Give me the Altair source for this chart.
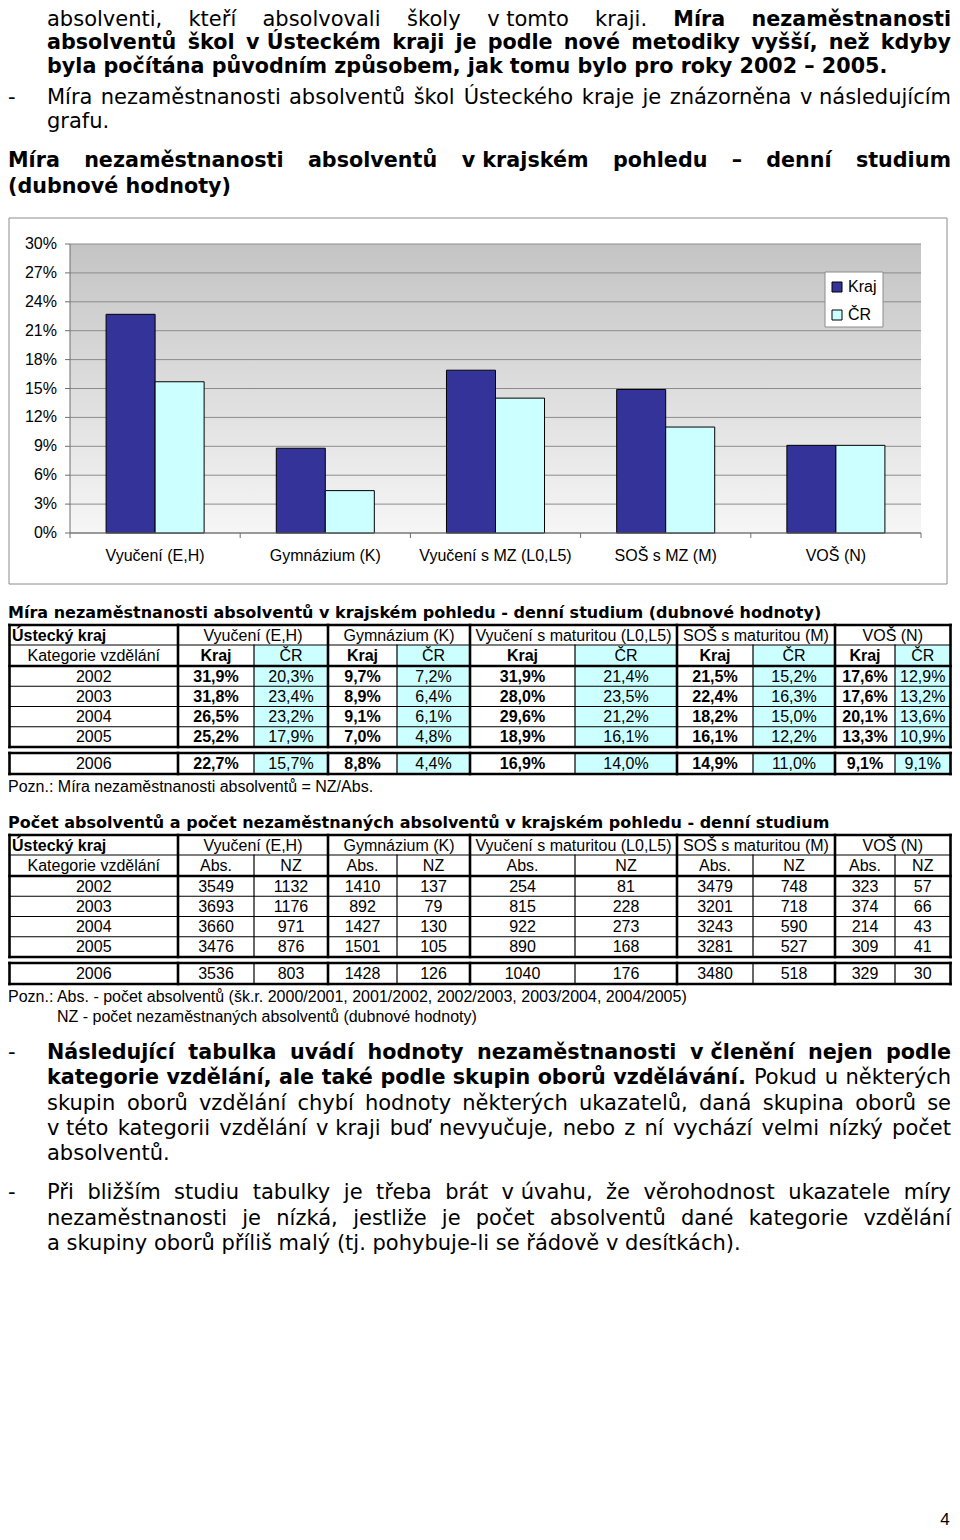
import unicodedata
import altair as alt
import pandas as pd

# ------------------------------------------------------------------ data
years = ["2002", "2003", "2004", "2005", "2006"]
groups_table = ["Vyučení (E,H)", "Gymnázium (K)", "Vyučení s maturitou (L0,L5)",
                "SOŠ s maturitou (M)", "VOŠ (N)"]
groups_chart = ["Vyučení (E,H)", "Gymnázium (K)", "Vyučení s MZ (L0,L5)",
                "SOŠ s MZ (M)", "VOŠ (N)"]
series = ["Kraj", "ČR"]
series_colors = ["#333399", "#CCFFFF"]

rate_kraj_vyuceni = [31.9, 31.8, 26.5, 25.2, 22.7]
rate_cr_vyuceni = [20.3, 23.4, 23.2, 17.9, 15.7]
rate_kraj_gymnazium = [9.7, 8.9, 9.1, 7.0, 8.8]
rate_cr_gymnazium = [7.2, 6.4, 6.1, 4.8, 4.4]
rate_kraj_vyuceni_mz = [31.9, 28.0, 29.6, 18.9, 16.9]
rate_cr_vyuceni_mz = [21.4, 23.5, 21.2, 16.1, 14.0]
rate_kraj_sos = [21.5, 22.4, 18.2, 16.1, 14.9]
rate_cr_sos = [15.2, 16.3, 15.0, 12.2, 11.0]
rate_kraj_vos = [17.6, 17.6, 20.1, 13.3, 9.1]
rate_cr_vos = [12.9, 13.2, 13.6, 10.9, 9.1]

abs_vyuceni = [3549, 3693, 3660, 3476, 3536]
nz_vyuceni = [1132, 1176, 971, 876, 803]
abs_gymnazium = [1410, 892, 1427, 1501, 1428]
nz_gymnazium = [137, 79, 130, 105, 126]
abs_vyuceni_mz = [254, 815, 922, 890, 1040]
nz_vyuceni_mz = [81, 228, 273, 168, 176]
abs_sos = [3479, 3201, 3243, 3281, 3480]
nz_sos = [748, 718, 590, 527, 518]
abs_vos = [323, 374, 214, 309, 329]
nz_vos = [57, 66, 43, 41, 30]

y_tick_values = [0, 3, 6, 9, 12, 15, 18, 21, 24, 27, 30]
y_tick_labels = ["0%", "3%", "6%", "9%", "12%", "15%", "18%", "21%", "24%", "27%", "30%"]

kraj_rates = [rate_kraj_vyuceni, rate_kraj_gymnazium, rate_kraj_vyuceni_mz, rate_kraj_sos, rate_kraj_vos]
cr_rates = [rate_cr_vyuceni, rate_cr_gymnazium, rate_cr_vyuceni_mz, rate_cr_sos, rate_cr_vos]
abs_counts = [abs_vyuceni, abs_gymnazium, abs_vyuceni_mz, abs_sos, abs_vos]
nz_counts = [nz_vyuceni, nz_gymnazium, nz_vyuceni_mz, nz_sos, nz_vos]

# ------------------------------------------------------------------ layout
OFF = 8
W, H = 944, 1524


def p(v):
    return v - OFF


XPAGE = alt.Scale(domain=[OFF, OFF + W], range=[0, W], nice=False, zero=False)
YPAGE = alt.Scale(domain=[OFF, OFF + H], range=[0, H], nice=False, zero=False)

PARA_FONT = "Verdana, DejaVu Sans"
SANS = "Arial, Liberation Sans"
SIZE_N = 21.0
SIZE_B = 20.7
X_LEFT, X_RIGHT = 47, 951

EM_N = {" ": .318, ",": .318, ".": .318, ":": .337, "-": .361, "–": .5, "(": .39, ")": .39,
        "/": .337, "a": .613, "b": .635, "c": .55, "d": .635, "e": .615, "f": .352, "g": .635,
        "h": .634, "i": .278, "j": .278, "k": .579, "l": .278, "m": .974, "n": .634, "o": .612,
        "p": .635, "q": .635, "r": .411, "s": .521, "t": .392, "u": .634, "v": .592, "w": .818,
        "x": .592, "y": .592, "z": .525, "M": .863, "N": .748, "P": .603, "U": .732, "K": .656,
        "S": .635}
EM_B = {" ": .348, ",": .38, ".": .38, "-": .415, "–": .5, "(": .457, ")": .457,
        "a": .675, "b": .716, "c": .593, "d": .716, "e": .678, "f": .435, "g": .716, "h": .712,
        "i": .343, "j": .343, "k": .665, "l": .343, "m": 1.042, "n": .712, "o": .687, "p": .716,
        "q": .716, "r": .493, "s": .595, "t": .478, "u": .712, "v": .652, "w": .924, "x": .645,
        "y": .652, "z": .582, "M": .995, "N": .837, "U": .812, "K": .775, "P": .733}


def est(word, bold):
    tbl = EM_B if bold else EM_N
    size = SIZE_B if bold else SIZE_N
    tot = 0.0
    for ch in word:
        base = unicodedata.normalize("NFD", ch)[0]
        if base in tbl:
            tot += tbl[base]
        elif base.isdigit():
            tot += .696 if bold else .636
        elif base.isupper():
            tot += .78 if bold else .70
        else:
            tot += .68 if bold else .60
    return tot * size


texts = []


def add_text(x, y, s, font, size, weight="normal", align="left"):
    texts.append(dict(x=x, y=y, text=s, font=font, size=float(size), weight=weight, align=align))


def tokens(s, bold):
    parts = s.split(" ")
    out, i = [], 0
    while i < len(parts):
        w = parts[i]
        if w == "v" and i + 1 < len(parts):
            w = w + " " + parts[i + 1]
            i += 1
        out.append((w, bold))
        i += 1
    return out


def justify(toks, x0, x1, y):
    widths = [est(w, b) for w, b in toks]
    n = len(toks)
    gap = (x1 - x0 - sum(widths)) / (n - 1)
    x = x0
    for i, ((w, b), wd) in enumerate(zip(toks, widths)):
        wt = "bold" if b else "normal"
        size = SIZE_B if b else SIZE_N
        if i == 0:
            add_text(x0, y, w, PARA_FONT, size, wt, "left")
        elif i == n - 1:
            add_text(x1, y, w, PARA_FONT, size, wt, "right")
        else:
            add_text(x + wd / 2, y, w, PARA_FONT, size, wt, "center")
        x += wd + gap


# (y, segments, justified, x_left)
paragraph_lines = [
    (20, [("absolventi, kteří absolvovali školy v tomto kraji.", False), ("Míra nezaměstnanosti", True)], True, X_LEFT),
    (43, [("absolventů škol v Ústeckém kraji je podle nové metodiky vyšší, než kdyby", True)], True, X_LEFT),
    (67, [("byla počítána původním způsobem, jak tomu bylo pro roky 2002 – 2005.", True)], False, X_LEFT),
    (98, [("Míra nezaměstnanosti absolventů škol Ústeckého kraje je znázorněna v následujícím", False)], True, X_LEFT),
    (122, [("grafu.", False)], False, X_LEFT),
    (161, [("Míra nezaměstnanosti absolventů v krajském pohledu – denní studium", True)], True, 8),
    (187, [("(dubnové hodnoty)", True)], False, 8),
    (1053, [("Následující tabulka uvádí hodnoty nezaměstnanosti v členění nejen podle", True)], True, X_LEFT),
    (1078, [("kategorie vzdělání, ale také podle skupin oborů vzdělávání.", True), ("Pokud u některých", False)], True, X_LEFT),
    (1104, [("skupin oborů vzdělání chybí hodnoty některých ukazatelů, daná skupina oborů se", False)], True, X_LEFT),
    (1129, [("v této kategorii vzdělání v kraji buď nevyučuje, nebo z ní vychází velmi nízký počet", False)], True, X_LEFT),
    (1154, [("absolventů.", False)], False, X_LEFT),
    (1193, [("Při bližším studiu tabulky je třeba brát v úvahu, že věrohodnost ukazatele míry", False)], True, X_LEFT),
    (1219, [("nezaměstnanosti je nízká, jestliže je počet absolventů dané kategorie vzdělání", False)], True, X_LEFT),
    (1244, [("a skupiny oborů příliš malý (tj. pohybuje-li se řádově v desítkách).", False)], False, X_LEFT),
]
bullet_rows = [98, 1053, 1193]

for y, segs, just, x0 in paragraph_lines:
    if just:
        toks = []
        for s, b in segs:
            toks += tokens(s, b)
        justify(toks, x0, X_RIGHT, y)
    else:
        s, b = segs[0]
        add_text(x0, y, s, PARA_FONT, SIZE_B if b else SIZE_N, "bold" if b else "normal", "left")
for y in bullet_rows:
    add_text(8, y, "-", PARA_FONT, SIZE_N)

# ------------------------------------------------------------------ tables
COLS = [9.5, 178, 254, 328, 397, 470, 575, 677, 753, 835, 895, 950.5]
rules = []
rects = []
THICK, THIN = 2.6, 1.2


def hline(y, x0, x1, w):
    rules.append(dict(x=x0, x2=x1, y=y, y2=y, w=w, c="black"))


def vline(x, y0, y1, w):
    rules.append(dict(x=x, x2=x, y=y0, y2=y1, w=w, c="black"))


def fmt_rate(v):
    return f"{v:.1f}%".replace(".", ",")


def build_table(top, sub_names, first_vals, second_vals, fmt, first_bold, cyan):
    B = COLS
    h1 = (top, top + 20)
    h2 = (top + 20, top + 41)
    rows = [(top + 41 + 20.25 * i, top + 41 + 20.25 * (i + 1)) for i in range(4)]
    rows.append((top + 128, top + 149))
    block_bottom = top + 122
    if cyan:
        for c in (2, 4, 6, 8, 10):
            rects.append(dict(x=B[c], x2=B[c + 1], y=h2[0], y2=block_bottom, fill="#CCFFFF"))
            rects.append(dict(x=B[c], x2=B[c + 1], y=rows[4][0], y2=rows[4][1], fill="#CCFFFF"))
    hline(h1[1], B[0], B[-1], THIN)
    for r in rows[:3]:
        hline(r[1], B[0], B[-1], THIN)
    for c in (2, 4, 6, 8, 10):
        vline(B[c], h2[0], block_bottom, THIN)
        vline(B[c], rows[4][0], rows[4][1], THIN)
    for y in (top, h2[1], block_bottom, rows[4][0], rows[4][1]):
        hline(y, B[0], B[-1], THICK)
    for c in (0, 1, 3, 5, 7, 9, 11):
        vline(B[c], top, block_bottom, THICK)
        vline(B[c], rows[4][0], rows[4][1], THICK)

    def mid(r):
        return (r[0] + r[1]) / 2 + 0.5

    add_text(B[0] + 2.5, mid(h1), "Ústecký kraj", SANS, 16, "bold", "left")
    add_text((B[0] + B[1]) / 2, mid(h2), "Kategorie vzdělání", SANS, 16, "normal", "center")
    for g, name in enumerate(groups_table):
        c1, c2 = 2 * g + 1, 2 * g + 2
        add_text((B[c1] + B[c2 + 1]) / 2, mid(h1), name, SANS, 16, "normal", "center")
        add_text((B[c1] + B[c1 + 1]) / 2, mid(h2), sub_names[0], SANS, 16,
                 "bold" if first_bold else "normal", "center")
        add_text((B[c2] + B[c2 + 1]) / 2, mid(h2), sub_names[1], SANS, 16, "normal", "center")
        for i, r in enumerate(rows):
            add_text((B[c1] + B[c1 + 1]) / 2, mid(r), fmt(first_vals[g][i]), SANS, 16,
                     "bold" if first_bold else "normal", "center")
            add_text((B[c2] + B[c2 + 1]) / 2, mid(r), fmt(second_vals[g][i]), SANS, 16,
                     "normal", "center")
    for i, r in enumerate(rows):
        add_text((B[0] + B[1]) / 2, mid(r), years[i], SANS, 16, "normal", "center")


TITLE_SIZE = 16
add_text(8, 613, "Míra nezaměstnanosti absolventů v krajském pohledu - denní studium (dubnové hodnoty)",
         PARA_FONT, TITLE_SIZE, "bold", "left")
build_table(625, ["Kraj", "ČR"], kraj_rates, cr_rates, fmt_rate, True, True)
add_text(8, 787, "Pozn.: Míra nezaměstnanosti absolventů = NZ/Abs.", SANS, 16)

add_text(8, 823, "Počet absolventů a počet nezaměstnaných absolventů v krajském pohledu - denní studium",
         PARA_FONT, TITLE_SIZE, "bold", "left")
build_table(835, ["Abs.", "NZ"], abs_counts, nz_counts, str, False, False)
add_text(8, 997, "Pozn.: Abs. - počet absolventů (šk.r. 2000/2001, 2001/2002, 2002/2003, 2003/2004, 2004/2005)",
         SANS, 16)
add_text(57, 1017, "NZ - počet nezaměstnaných absolventů (dubnové hodnoty)", SANS, 16)

add_text(945, 1520, "4", SANS, 17, "normal", "center")

# ------------------------------------------------------------------ chart frame pieces (page px)
PL, PR, PT, PB = 70, 921, 244, 533
frames = pd.DataFrame([
    dict(x=9, x2=947, y=218, y2=584, fill="white", stroke="#8c8c8c"),
])
legend_box = pd.DataFrame([dict(x=825, x2=883, y=272, y2=327, fill="white", stroke="#8c8c8c")])
axis_rules = [
    dict(x=PL, x2=PL, y=PT, y2=PB, w=1, c="#6e6e6e"),
    dict(x=PL, x2=PR, y=PB, y2=PB, w=1, c="#6e6e6e"),
]


def page_rects(df, **mk):
    return alt.Chart(df).mark_rect(**mk).encode(
        x=alt.X("x:Q", scale=XPAGE, axis=None), x2="x2:Q",
        y=alt.Y("y:Q", scale=YPAGE, axis=None), y2="y2:Q",
        fill=alt.Fill("fill:N", scale=None), stroke=alt.Stroke("stroke:N", scale=None),
    )


def page_rules(df, **mk):
    return alt.Chart(df).mark_rule(**mk).encode(
        x=alt.X("x:Q", scale=XPAGE, axis=None), x2="x2:Q",
        y=alt.Y("y:Q", scale=YPAGE, axis=None), y2="y2:Q",
        strokeWidth=alt.StrokeWidth("w:Q", scale=None),
        color=alt.Color("c:N", scale=None),
    )


gradient = alt.Gradient(
    gradient="linear",
    stops=[alt.GradientStop(color="#c4c4c4", offset=0), alt.GradientStop(color="#f6f6f6", offset=1)],
    x1=0, x2=0, y1=0, y2=1,
)
plot_bg = alt.Chart(pd.DataFrame([dict(x=PL, x2=PR, y=PT, y2=PB)])).mark_rect(fill=gradient).encode(
    x=alt.X("x:Q", scale=XPAGE, axis=None), x2="x2:Q",
    y=alt.Y("y:Q", scale=YPAGE, axis=None), y2="y2:Q",
)

XBAND = alt.Scale(domain=groups_chart, range=[p(PL), p(PR)], paddingInner=0.424, paddingOuter=0.212)
YBAR = alt.Scale(domain=[0, 30], range=[p(PB), p(PT)], nice=False, zero=True)
COLOR = alt.Scale(domain=series, range=series_colors)

tick_df = pd.DataFrame({"v": y_tick_values, "label": y_tick_labels})
grid = alt.Chart(tick_df).mark_rule(color="#8c8c8c", strokeWidth=1).encode(
    y=alt.Y("v:Q", scale=YBAR, axis=None), x=alt.value(p(PL)), x2=alt.value(p(PR)))
yticks = alt.Chart(tick_df).mark_rule(color="#6e6e6e", strokeWidth=1).encode(
    y=alt.Y("v:Q", scale=YBAR, axis=None), x=alt.value(p(PL - 5)), x2=alt.value(p(PL)))
ylabels = alt.Chart(tick_df).mark_text(font=SANS, fontSize=16, align="right", baseline="middle",
                                       color="black").encode(
    y=alt.Y("v:Q", scale=YBAR, axis=None), x=alt.value(p(57)), text="label:N")

bound_df = pd.DataFrame({"k": list(range(len(groups_chart) + 1))})
xticks = alt.Chart(bound_df).mark_rule(color="#6e6e6e", strokeWidth=1).encode(
    x=alt.X("k:Q", scale=alt.Scale(domain=[0, len(groups_chart)], range=[p(PL), p(PR)],
                                   nice=False, zero=False), axis=None),
    y=alt.value(p(PB)), y2=alt.value(p(PB + 5)))
xlabels = alt.Chart(pd.DataFrame({"cat": groups_chart})).mark_text(
    font=SANS, fontSize=16, baseline="middle", color="black").encode(
    x=alt.X("cat:N", scale=XBAND, axis=None), y=alt.value(p(556)), text="cat:N")

bar_rows = []
for g, k, c in zip(groups_chart, kraj_rates, cr_rates):
    bar_rows.append(dict(cat=g, series="Kraj", value=k[-1]))
    bar_rows.append(dict(cat=g, series="ČR", value=c[-1]))
bars = alt.Chart(pd.DataFrame(bar_rows)).mark_bar(stroke="black", strokeWidth=1, opacity=1).encode(
    x=alt.X("cat:N", scale=XBAND, axis=None),
    xOffset=alt.XOffset("series:N", scale=alt.Scale(domain=series, paddingInner=0, paddingOuter=0)),
    y=alt.Y("value:Q", scale=YBAR, axis=None),
    color=alt.Color("series:N", scale=COLOR, legend=None),
)

LEG_Y = alt.Scale(type="point", domain=series, range=[p(287), p(315)], padding=0)
leg_df = pd.DataFrame({"series": series})
leg_sw = alt.Chart(leg_df).mark_square(size=100, stroke="black", strokeWidth=1, opacity=1,
                                       filled=True).encode(
    x=alt.value(p(837)), y=alt.Y("series:N", scale=LEG_Y, axis=None),
    color=alt.Color("series:N", scale=COLOR, legend=None))
leg_tx = alt.Chart(leg_df).mark_text(font=SANS, fontSize=16, align="left", baseline="middle",
                                     color="black").encode(
    x=alt.value(p(848)), y=alt.Y("series:N", scale=LEG_Y, axis=None), text="series:N")

# ------------------------------------------------------------------ text layers
tdf = pd.DataFrame(texts)
text_layers = []
for (font, size, weight, align), sub in tdf.groupby(["font", "size", "weight", "align"]):
    text_layers.append(
        alt.Chart(sub[["x", "y", "text"]].reset_index(drop=True)).mark_text(
            font=font, fontSize=size, fontWeight=weight, align=align, baseline="middle",
            color="black").encode(
            x=alt.X("x:Q", scale=XPAGE, axis=None),
            y=alt.Y("y:Q", scale=YPAGE, axis=None),
            text="text:N")
    )

layers = [
    page_rects(frames, strokeWidth=1),
    plot_bg,
    grid,
    bars,
    page_rules(pd.DataFrame(axis_rules)),
    yticks,
    xticks,
    ylabels,
    xlabels,
    page_rects(legend_box, strokeWidth=1),
    leg_sw,
    leg_tx,
    page_rects(pd.DataFrame(rects).assign(stroke="transparent"), strokeWidth=0),
    page_rules(pd.DataFrame(rules), strokeCap="square"),
] + text_layers

chart = alt.layer(*layers).resolve_scale(
    x="independent", y="independent", color="independent"
).properties(
    width=W, height=H, padding=0, autosize=alt.AutoSizeParams(type="none")
).configure_view(stroke=None)

chart.save("out.html", embed_options={"renderer": "svg", "actions": False})
